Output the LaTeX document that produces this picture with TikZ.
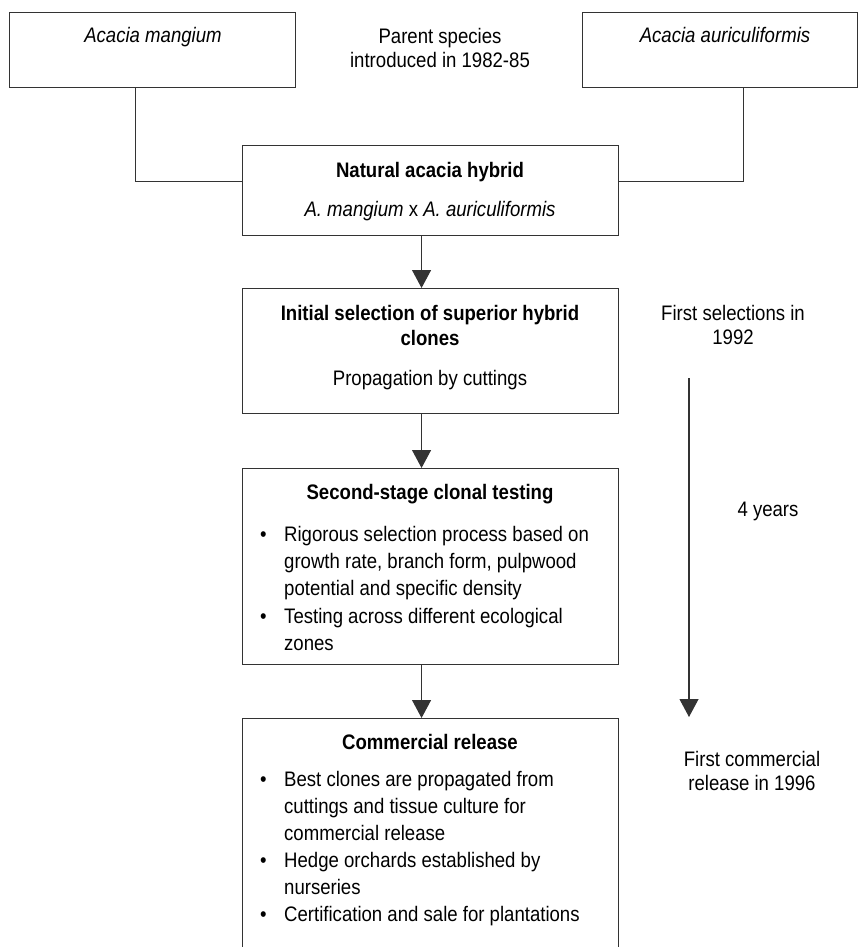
\documentclass[tikz,border=0pt]{standalone}
\usepackage{fontspec}
\setmainfont{Liberation Sans}[FakeStretch=0.885]
\usepackage{tikz}
\usetikzlibrary{arrows.meta, positioning}

\newcommand{\itm}{\makebox[24pt][l]{•}}
\newcommand{\ind}{\hspace*{24pt}}

\tikzset{
  box/.style={draw=black!80, line width=1.1pt, inner sep=0pt, anchor=north west},
  txt/.style={inner sep=0pt, anchor=north, align=center, font={\fontsize{21}{24}\selectfont}},
  lst/.style={inner sep=0pt, anchor=north west, align=left, font={\fontsize{21}{27.4}\selectfont}},
  link/.style={draw=black!80, line width=1.1pt},
  flow/.style={link, -{Triangle[width=19pt,length=18pt]}}
}

\begin{document}
\begin{tikzpicture}[x=1pt, y=-1pt]
    \clip (0,0) rectangle (858,947);

    % Boxes
    \node[box, minimum width=286pt, minimum height=75pt] (mang) at (9,12) {};
    \node[box, minimum width=275pt, minimum height=75pt] (auri) at (582,12) {};
    \node[box, minimum width=376pt, minimum height=90pt] (hyb) at (242,145) {};
    \node[box, minimum width=376pt, minimum height=125pt] (ini) at (242,288) {};
    \node[box, minimum width=376pt, minimum height=196pt] (sec) at (242,468) {};
    \node[box, minimum width=376pt, minimum height=240pt] (com) at (242,718) {};

    % Box texts
    \node[txt] (mangT) at (153,26.8) {\textit{Acacia mangium}};
    \node[txt] (auriT) at (725,26.8) {\textit{Acacia auriculiformis}};
    \node[txt] (parT) at (440,27.8) {Parent species\\introduced in 1982-85};
    \node[txt] (hybT) at (430,161.7) {\textbf{Natural acacia hybrid}\\[15pt]
        \textit{A. mangium} x \textit{A. auriculiformis}};
    \node[txt, font={\fontsize{21}{25}\selectfont}] (iniT) at (430,304.7)
        {\textbf{Initial selection of superior hybrid}\\\textbf{clones}\\[15pt]
        Propagation by cuttings};
    \node[txt] (secT) at (430,483.7) {\textbf{Second-stage clonal testing}};
    \node[lst] (secL) at (260,525.7) {%
        \itm Rigorous selection process based on\\
        \ind growth rate, branch form, pulpwood\\
        \ind potential and specific density\\
        \itm Testing across different ecological\\
        \ind zones};
    \node[txt] (comT) at (430,733.7) {\textbf{Commercial release}};
    \node[lst, font={\fontsize{21}{27}\selectfont}] (comL) at (260,770.7) {%
        \itm Best clones are propagated from\\
        \ind cuttings and tissue culture for\\
        \ind commercial release\\
        \itm Hedge orchards established by\\
        \ind nurseries\\
        \itm Certification and sale for plantations};

    % Time line
    \node[txt] (selT) at (733,304.8) {First selections in\\1992};
    \node[txt] (yrsT) at (768,501.8) {4 years};
    \node[txt] (relT) at (752,750.8) {First commercial\\release in 1996};
    \coordinate (t0) at (689,378);
    \coordinate (t1) at (689,717);
    \draw[flow] (t0) -- (t1);

    % Connectors
    \draw[link] ([xshift=-17pt]mang.south) |- ([yshift=9pt]hyb.west);
    \draw[link] ([xshift=23pt]auri.south) |- ([yshift=9pt]hyb.east);
    \draw[flow] ([xshift=-9pt]hyb.south) -- ([xshift=-9pt]ini.north);
    \draw[flow] ([xshift=-9pt]ini.south) -- ([xshift=-9pt]sec.north);
    \draw[flow] ([xshift=-9pt]sec.south) -- ([xshift=-9pt]com.north);
\end{tikzpicture}
\end{document}
